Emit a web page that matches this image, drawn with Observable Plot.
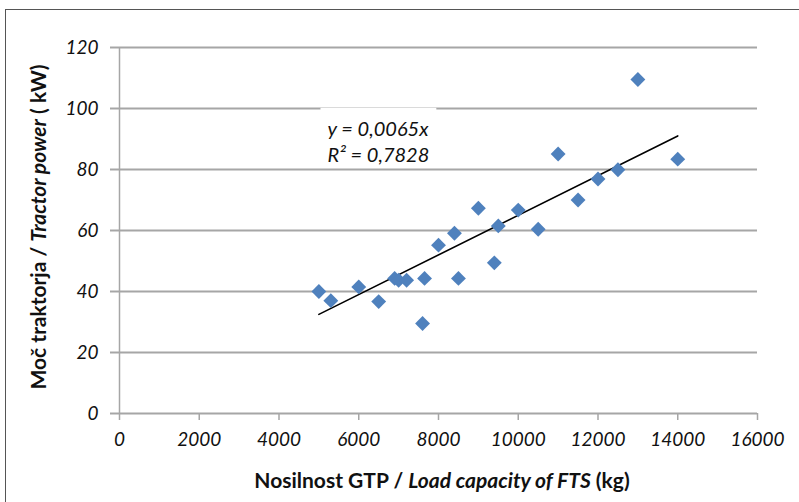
<!DOCTYPE html>
<html>
<head>
<meta charset="utf-8">
<script src="https://cdn.jsdelivr.net/npm/d3@7"></script>
<script src="https://cdn.jsdelivr.net/npm/@observablehq/plot@0.6"></script>
<style>
  html, body { margin: 0; padding: 0; background: #fff; }
  #wrap { position: relative; width: 799px; height: 502px; overflow: hidden; }
  #frame { position: absolute; left: 5px; top: 9px; width: 900px; height: 600px;
           border-left: 1.5px solid #555; border-top: 1.5px solid #555; pointer-events: none; }
  #chart { position: absolute; left: 0; top: 0; }
</style>
</head>
<body>
<div id="wrap"><div id="chart"></div><div id="frame"></div></div>
<script>
// Load capacity of FTS (kg)
const loadKg = [5000, 5300, 6000, 6500, 6900, 7000, 7200, 7600, 7650, 8000, 8400, 8500,
                9000, 9400, 9500, 10000, 10500, 11000, 11500, 12000, 12500, 13000, 14000];
// Tractor power (kW)
const powerKw = [40, 37, 41.5, 36.7, 44.3, 43.7, 43.7, 29.5, 44.3, 55.2, 59.1, 44.3,
                 67.3, 49.4, 61.5, 66.7, 60.4, 85.1, 70, 76.9, 79.9, 109.5, 83.4];
// Linear trendline through origin (y = 0,0065x), drawn over data range
const trendX = [5000, 14000];
const trendY = [32.5, 91];
const xTicks = [0, 2000, 4000, 6000, 8000, 10000, 12000, 14000, 16000];
const yTicks = [0, 20, 40, 60, 80, 100, 120];
const equationLines = ["y = 0,0065x", "R² = 0,7828"];
const xTitleParts = [["Nosilnost GTP / ", "normal"], ["Load capacity of FTS", "italic"], [" (kg)", "normal"]];
const yTitleParts = [["Moč traktorja / ", "normal"], ["Tractor power", "italic"], [" ( kW)", "normal"]];

const points = loadKg.map((x, i) => ({x, y: powerKw[i]}));
const trend = trendX.map((x, i) => ({x, y: trendY[i]}));

const FONT = "Lato, 'Open Sans', sans-serif";
const GRID = "#a6a6a6";
const INK = "#111";

const chart = Plot.plot({
  width: 799,
  height: 502,
  marginLeft: 119,
  marginRight: 42,
  marginTop: 47,
  marginBottom: 89,
  style: {fontFamily: FONT, background: "transparent", color: INK},
  x: {domain: [0, 16000]},
  y: {domain: [0, 120]},
  marks: [
    Plot.gridY(yTicks, {stroke: GRID, strokeOpacity: 1, strokeWidth: 2}),
    Plot.ruleX([0], {stroke: GRID, strokeWidth: 1.5}),
    Plot.axisY(yTicks, {tickSize: 9, tickPadding: 12, stroke: GRID, strokeWidth: 2, strokeOpacity: 1,
      fontSize: 19, fontStyle: "italic", fill: INK, label: null, tickFormat: d => String(d)}),
    Plot.axisX(xTicks, {tickSize: 7, tickPadding: 12, stroke: GRID, strokeWidth: 1.5, strokeOpacity: 1,
      fontSize: 19, fontStyle: "italic", fill: INK, label: null, tickFormat: d => String(d)}),
    Plot.text([equationLines.join("\n")], {frameAnchor: "top-left", dx: 208, dy: 93,
      textAnchor: "start", lineAnchor: "middle", lineHeight: 1.3, fontSize: 20, fontStyle: "italic",
      fill: INK, className: "eq"}),
    Plot.line(trend, {x: "x", y: "y", stroke: "#000", strokeWidth: 1.6}),
    Plot.dot(points, {x: "x", y: "y", symbol: "diamond2", r: 6.7, fill: "#4f81bd", stroke: "none"})
  ]
});

document.getElementById("chart").appendChild(chart);

const svg = d3.select(chart);

// white box behind the equation (in the text's own coordinate frame)
const eq = chart.querySelector(".eq text");
if (eq) {
  const b = eq.getBBox();
  const r = document.createElementNS("http://www.w3.org/2000/svg", "rect");
  r.setAttribute("x", b.x - 7);
  r.setAttribute("y", b.y - 8);
  r.setAttribute("width", b.width + 14);
  r.setAttribute("height", b.height + 6);
  r.setAttribute("fill", "#fff");
  if (eq.getAttribute("transform")) r.setAttribute("transform", eq.getAttribute("transform"));
  eq.parentNode.insertBefore(r, eq);
}

// axis titles with mixed styles
function addTitle(parts, attrs) {
  const t = svg.append("text")
    .attr("font-family", FONT).attr("font-size", 21).attr("font-weight", "bold")
    .attr("fill", INK).attr("text-anchor", "middle");
  for (const [k, v] of Object.entries(attrs)) t.attr(k, v);
  parts.forEach(([s, st]) => t.append("tspan").attr("font-style", st).text(s));
  return t;
}
addTitle(xTitleParts, {x: 442, y: 488});
addTitle(yTitleParts, {transform: "translate(46,227) rotate(-90)"});
</script>
</body>
</html>
